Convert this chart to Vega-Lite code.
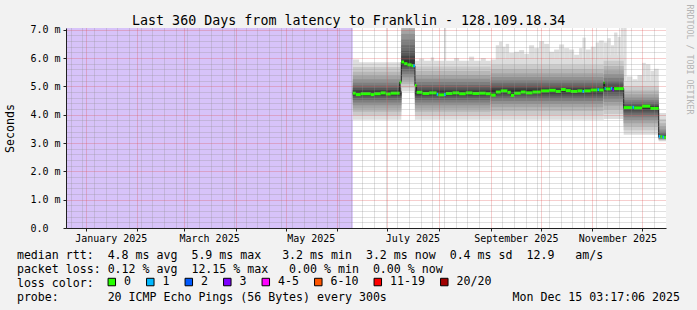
{
"$schema": "https://vega.github.io/schema/vega-lite/v6.json",
"width": 600,
"height": 200,
"autosize": "none",
"padding": {"left": 66, "top": 28, "right": 31, "bottom": 82},
"background": "#f2f2f2",
"config": {"view": {"fill": "#ffffff", "stroke": null}, "font": "DejaVu Sans Mono"},
"title": {"text": "Last 360 Days from latency to Franklin - 128.109.18.34", "font": "DejaVu Sans Mono", "fontSize": 13.33, "fontWeight": "normal", "color": "#000000", "anchor": "start", "frame": "group", "dx": 66, "offset": -34, "baseline": "alphabetic"},
"datasets": {
"unknown": [{"t0": "2024-12-20T03:17:06Z", "t1": "2025-06-10T06:00:00Z"}],
"smoke": [
{"t0":"2025-06-10T06:00:00Z","t1":"2025-07-09T08:00:00Z","band":1,"lo":3.82,"hi":5.85},
{"t0":"2025-06-10T06:00:00Z","t1":"2025-07-09T08:00:00Z","band":2,"lo":3.97,"hi":5.68},
{"t0":"2025-06-10T06:00:00Z","t1":"2025-07-09T08:00:00Z","band":3,"lo":4.10,"hi":5.52},
{"t0":"2025-06-10T06:00:00Z","t1":"2025-07-09T08:00:00Z","band":4,"lo":4.22,"hi":5.38},
{"t0":"2025-06-10T06:00:00Z","t1":"2025-07-09T08:00:00Z","band":5,"lo":4.33,"hi":5.25},
{"t0":"2025-06-10T06:00:00Z","t1":"2025-07-09T08:00:00Z","band":6,"lo":4.43,"hi":5.13},
{"t0":"2025-06-10T06:00:00Z","t1":"2025-07-09T08:00:00Z","band":7,"lo":4.52,"hi":5.03},
{"t0":"2025-06-10T06:00:00Z","t1":"2025-07-09T08:00:00Z","band":8,"lo":4.60,"hi":4.94},
{"t0":"2025-06-10T06:00:00Z","t1":"2025-07-09T08:00:00Z","band":9,"lo":4.66,"hi":4.87},
{"t0":"2025-06-10T06:00:00Z","t1":"2025-07-09T08:00:00Z","band":10,"lo":4.71,"hi":4.81},
{"t0":"2025-07-09T08:00:00Z","t1":"2025-07-17T12:00:00Z","band":1,"lo":4.82,"hi":7.06},
{"t0":"2025-07-09T08:00:00Z","t1":"2025-07-17T12:00:00Z","band":2,"lo":4.95,"hi":7.06},
{"t0":"2025-07-09T08:00:00Z","t1":"2025-07-17T12:00:00Z","band":3,"lo":5.08,"hi":7.06},
{"t0":"2025-07-09T08:00:00Z","t1":"2025-07-17T12:00:00Z","band":4,"lo":5.20,"hi":7.00},
{"t0":"2025-07-09T08:00:00Z","t1":"2025-07-17T12:00:00Z","band":5,"lo":5.32,"hi":6.85},
{"t0":"2025-07-09T08:00:00Z","t1":"2025-07-17T12:00:00Z","band":6,"lo":5.43,"hi":6.65},
{"t0":"2025-07-09T08:00:00Z","t1":"2025-07-17T12:00:00Z","band":7,"lo":5.53,"hi":6.45},
{"t0":"2025-07-09T08:00:00Z","t1":"2025-07-17T12:00:00Z","band":8,"lo":5.62,"hi":6.25},
{"t0":"2025-07-09T08:00:00Z","t1":"2025-07-17T12:00:00Z","band":9,"lo":5.70,"hi":6.08},
{"t0":"2025-07-09T08:00:00Z","t1":"2025-07-17T12:00:00Z","band":10,"lo":5.76,"hi":5.93},
{"t0":"2025-07-17T12:00:00Z","t1":"2025-09-01T00:00:00Z","band":1,"lo":3.82,"hi":5.90},
{"t0":"2025-07-17T12:00:00Z","t1":"2025-09-01T00:00:00Z","band":2,"lo":3.97,"hi":5.70},
{"t0":"2025-07-17T12:00:00Z","t1":"2025-09-01T00:00:00Z","band":3,"lo":4.10,"hi":5.54},
{"t0":"2025-07-17T12:00:00Z","t1":"2025-09-01T00:00:00Z","band":4,"lo":4.22,"hi":5.40},
{"t0":"2025-07-17T12:00:00Z","t1":"2025-09-01T00:00:00Z","band":5,"lo":4.33,"hi":5.27},
{"t0":"2025-07-17T12:00:00Z","t1":"2025-09-01T00:00:00Z","band":6,"lo":4.43,"hi":5.15},
{"t0":"2025-07-17T12:00:00Z","t1":"2025-09-01T00:00:00Z","band":7,"lo":4.52,"hi":5.05},
{"t0":"2025-07-17T12:00:00Z","t1":"2025-09-01T00:00:00Z","band":8,"lo":4.60,"hi":4.96},
{"t0":"2025-07-17T12:00:00Z","t1":"2025-09-01T00:00:00Z","band":9,"lo":4.67,"hi":4.88},
{"t0":"2025-07-17T12:00:00Z","t1":"2025-09-01T00:00:00Z","band":10,"lo":4.72,"hi":4.82},
{"t0":"2025-09-01T00:00:00Z","t1":"2025-11-07T18:00:00Z","band":1,"lo":3.82,"hi":5.95},
{"t0":"2025-09-01T00:00:00Z","t1":"2025-11-07T18:00:00Z","band":2,"lo":3.99,"hi":5.76},
{"t0":"2025-09-01T00:00:00Z","t1":"2025-11-07T18:00:00Z","band":3,"lo":4.13,"hi":5.60},
{"t0":"2025-09-01T00:00:00Z","t1":"2025-11-07T18:00:00Z","band":4,"lo":4.26,"hi":5.46},
{"t0":"2025-09-01T00:00:00Z","t1":"2025-11-07T18:00:00Z","band":5,"lo":4.38,"hi":5.33},
{"t0":"2025-09-01T00:00:00Z","t1":"2025-11-07T18:00:00Z","band":6,"lo":4.48,"hi":5.21},
{"t0":"2025-09-01T00:00:00Z","t1":"2025-11-07T18:00:00Z","band":7,"lo":4.57,"hi":5.11},
{"t0":"2025-09-01T00:00:00Z","t1":"2025-11-07T18:00:00Z","band":8,"lo":4.65,"hi":5.02},
{"t0":"2025-09-01T00:00:00Z","t1":"2025-11-07T18:00:00Z","band":9,"lo":4.72,"hi":4.94},
{"t0":"2025-09-01T00:00:00Z","t1":"2025-11-07T18:00:00Z","band":10,"lo":4.78,"hi":4.88},
{"t0":"2025-11-07T18:00:00Z","t1":"2025-11-19T18:00:00Z","band":1,"lo":3.85,"hi":6.10},
{"t0":"2025-11-07T18:00:00Z","t1":"2025-11-19T18:00:00Z","band":2,"lo":4.02,"hi":5.90},
{"t0":"2025-11-07T18:00:00Z","t1":"2025-11-19T18:00:00Z","band":3,"lo":4.18,"hi":5.72},
{"t0":"2025-11-07T18:00:00Z","t1":"2025-11-19T18:00:00Z","band":4,"lo":4.32,"hi":5.57},
{"t0":"2025-11-07T18:00:00Z","t1":"2025-11-19T18:00:00Z","band":5,"lo":4.45,"hi":5.43},
{"t0":"2025-11-07T18:00:00Z","t1":"2025-11-19T18:00:00Z","band":6,"lo":4.56,"hi":5.30},
{"t0":"2025-11-07T18:00:00Z","t1":"2025-11-19T18:00:00Z","band":7,"lo":4.66,"hi":5.19},
{"t0":"2025-11-07T18:00:00Z","t1":"2025-11-19T18:00:00Z","band":8,"lo":4.75,"hi":5.10},
{"t0":"2025-11-07T18:00:00Z","t1":"2025-11-19T18:00:00Z","band":9,"lo":4.82,"hi":5.02},
{"t0":"2025-11-07T18:00:00Z","t1":"2025-11-19T18:00:00Z","band":10,"lo":4.88,"hi":4.97},
{"t0":"2025-11-19T18:00:00Z","t1":"2025-12-10T18:00:00Z","band":1,"lo":3.29,"hi":5.20},
{"t0":"2025-11-19T18:00:00Z","t1":"2025-12-10T18:00:00Z","band":2,"lo":3.45,"hi":5.00},
{"t0":"2025-11-19T18:00:00Z","t1":"2025-12-10T18:00:00Z","band":3,"lo":3.58,"hi":4.85},
{"t0":"2025-11-19T18:00:00Z","t1":"2025-12-10T18:00:00Z","band":4,"lo":3.70,"hi":4.72},
{"t0":"2025-11-19T18:00:00Z","t1":"2025-12-10T18:00:00Z","band":5,"lo":3.81,"hi":4.61},
{"t0":"2025-11-19T18:00:00Z","t1":"2025-12-10T18:00:00Z","band":6,"lo":3.91,"hi":4.51},
{"t0":"2025-11-19T18:00:00Z","t1":"2025-12-10T18:00:00Z","band":7,"lo":4.00,"hi":4.43},
{"t0":"2025-11-19T18:00:00Z","t1":"2025-12-10T18:00:00Z","band":8,"lo":4.08,"hi":4.36},
{"t0":"2025-11-19T18:00:00Z","t1":"2025-12-10T18:00:00Z","band":9,"lo":4.15,"hi":4.31},
{"t0":"2025-11-19T18:00:00Z","t1":"2025-12-10T18:00:00Z","band":10,"lo":4.20,"hi":4.28},
{"t0":"2025-12-10T18:00:00Z","t1":"2025-12-15T03:17:06Z","band":1,"lo":3.06,"hi":4.06},
{"t0":"2025-12-10T18:00:00Z","t1":"2025-12-15T03:17:06Z","band":2,"lo":3.09,"hi":3.85},
{"t0":"2025-12-10T18:00:00Z","t1":"2025-12-15T03:17:06Z","band":3,"lo":3.11,"hi":3.70},
{"t0":"2025-12-10T18:00:00Z","t1":"2025-12-15T03:17:06Z","band":4,"lo":3.13,"hi":3.58},
{"t0":"2025-12-10T18:00:00Z","t1":"2025-12-15T03:17:06Z","band":5,"lo":3.15,"hi":3.48},
{"t0":"2025-12-10T18:00:00Z","t1":"2025-12-15T03:17:06Z","band":6,"lo":3.16,"hi":3.40},
{"t0":"2025-12-10T18:00:00Z","t1":"2025-12-15T03:17:06Z","band":7,"lo":3.17,"hi":3.34},
{"t0":"2025-12-10T18:00:00Z","t1":"2025-12-15T03:17:06Z","band":8,"lo":3.18,"hi":3.29},
{"t0":"2025-12-10T18:00:00Z","t1":"2025-12-15T03:17:06Z","band":9,"lo":3.19,"hi":3.26},
{"t0":"2025-12-10T18:00:00Z","t1":"2025-12-15T03:17:06Z","band":10,"lo":3.20,"hi":3.23}
],
"peaks": [
{"t0":"2025-06-10T06:00:00Z","t1":"2025-06-14T00:00:00Z","lo":4.75,"hi":5.95},
{"t0":"2025-07-20T00:00:00Z","t1":"2025-07-23T00:00:00Z","lo":4.76,"hi":5.98},
{"t0":"2025-07-27T00:00:00Z","t1":"2025-07-29T00:00:00Z","lo":4.76,"hi":6.02},
{"t0":"2025-08-04T00:00:00Z","t1":"2025-08-05T06:00:00Z","lo":4.76,"hi":7.06},
{"t0":"2025-08-10T00:00:00Z","t1":"2025-08-13T00:00:00Z","lo":4.76,"hi":6.00},
{"t0":"2025-08-19T00:00:00Z","t1":"2025-08-22T00:00:00Z","lo":4.76,"hi":6.05},
{"t0":"2025-08-26T00:00:00Z","t1":"2025-08-29T00:00:00Z","lo":4.76,"hi":6.00},
{"t0":"2025-09-04T00:00:00Z","t1":"2025-09-06T00:00:00Z","lo":4.82,"hi":6.45},
{"t0":"2025-09-06T00:00:00Z","t1":"2025-09-08T00:00:00Z","lo":4.82,"hi":6.58},
{"t0":"2025-09-08T00:00:00Z","t1":"2025-09-10T00:00:00Z","lo":4.82,"hi":6.40},
{"t0":"2025-09-10T00:00:00Z","t1":"2025-09-12T00:00:00Z","lo":4.82,"hi":6.50},
{"t0":"2025-09-12T00:00:00Z","t1":"2025-09-15T00:00:00Z","lo":4.82,"hi":6.18},
{"t0":"2025-09-15T00:00:00Z","t1":"2025-09-18T00:00:00Z","lo":4.82,"hi":6.22},
{"t0":"2025-09-18T00:00:00Z","t1":"2025-09-21T00:00:00Z","lo":4.82,"hi":6.28},
{"t0":"2025-09-21T00:00:00Z","t1":"2025-09-24T00:00:00Z","lo":4.82,"hi":6.15},
{"t0":"2025-09-24T00:00:00Z","t1":"2025-09-27T00:00:00Z","lo":4.82,"hi":6.45},
{"t0":"2025-09-27T00:00:00Z","t1":"2025-09-30T00:00:00Z","lo":4.82,"hi":6.35},
{"t0":"2025-09-30T00:00:00Z","t1":"2025-10-03T00:00:00Z","lo":4.82,"hi":6.60},
{"t0":"2025-10-03T00:00:00Z","t1":"2025-10-06T00:00:00Z","lo":4.82,"hi":6.50},
{"t0":"2025-10-06T00:00:00Z","t1":"2025-10-09T00:00:00Z","lo":4.82,"hi":6.22},
{"t0":"2025-10-09T00:00:00Z","t1":"2025-10-12T00:00:00Z","lo":4.82,"hi":6.30},
{"t0":"2025-10-12T00:00:00Z","t1":"2025-10-15T00:00:00Z","lo":4.82,"hi":6.48},
{"t0":"2025-10-15T00:00:00Z","t1":"2025-10-18T00:00:00Z","lo":4.82,"hi":6.35},
{"t0":"2025-10-18T00:00:00Z","t1":"2025-10-21T00:00:00Z","lo":4.82,"hi":6.30},
{"t0":"2025-10-21T00:00:00Z","t1":"2025-10-24T00:00:00Z","lo":4.82,"hi":6.12},
{"t0":"2025-10-24T00:00:00Z","t1":"2025-10-26T00:00:00Z","lo":4.82,"hi":6.35},
{"t0":"2025-10-26T00:00:00Z","t1":"2025-10-28T00:00:00Z","lo":4.82,"hi":6.72},
{"t0":"2025-10-28T00:00:00Z","t1":"2025-10-31T00:00:00Z","lo":4.82,"hi":6.30},
{"t0":"2025-10-31T00:00:00Z","t1":"2025-11-03T00:00:00Z","lo":4.82,"hi":6.40},
{"t0":"2025-11-03T00:00:00Z","t1":"2025-11-05T00:00:00Z","lo":4.82,"hi":6.55},
{"t0":"2025-11-05T00:00:00Z","t1":"2025-11-07T18:00:00Z","lo":4.82,"hi":6.62},
{"t0":"2025-11-07T18:00:00Z","t1":"2025-11-10T00:00:00Z","lo":4.92,"hi":6.55},
{"t0":"2025-11-10T00:00:00Z","t1":"2025-11-12T00:00:00Z","lo":4.92,"hi":6.70},
{"t0":"2025-11-12T00:00:00Z","t1":"2025-11-14T00:00:00Z","lo":4.92,"hi":6.45},
{"t0":"2025-11-14T00:00:00Z","t1":"2025-11-16T00:00:00Z","lo":4.92,"hi":6.90},
{"t0":"2025-11-16T00:00:00Z","t1":"2025-11-18T00:00:00Z","lo":4.92,"hi":6.75},
{"t0":"2025-11-18T00:00:00Z","t1":"2025-11-19T18:00:00Z","lo":4.92,"hi":7.06},
{"t0":"2025-11-19T18:00:00Z","t1":"2025-11-21T12:00:00Z","lo":4.25,"hi":7.06},
{"t0":"2025-11-21T12:00:00Z","t1":"2025-11-25T00:00:00Z","lo":4.25,"hi":5.35},
{"t0":"2025-11-25T00:00:00Z","t1":"2025-11-28T00:00:00Z","lo":4.25,"hi":5.25},
{"t0":"2025-11-28T00:00:00Z","t1":"2025-11-30T18:00:00Z","lo":4.25,"hi":5.40},
{"t0":"2025-11-30T18:00:00Z","t1":"2025-12-03T00:00:00Z","lo":4.25,"hi":5.83},
{"t0":"2025-12-03T00:00:00Z","t1":"2025-12-05T18:00:00Z","lo":4.25,"hi":5.78},
{"t0":"2025-12-05T18:00:00Z","t1":"2025-12-08T00:00:00Z","lo":4.25,"hi":5.55},
{"t0":"2025-12-08T00:00:00Z","t1":"2025-12-10T18:00:00Z","lo":4.25,"hi":5.62}
],
"med": [
{"t0":"2025-06-10T06:00:00Z","t1":"2025-06-12T00:00:00Z","med":4.76,"loss":"0"},
{"t0":"2025-06-12T00:00:00Z","t1":"2025-06-15T00:00:00Z","med":4.71,"loss":"0"},
{"t0":"2025-06-15T00:00:00Z","t1":"2025-06-21T00:00:00Z","med":4.74,"loss":"0"},
{"t0":"2025-06-21T00:00:00Z","t1":"2025-06-23T00:00:00Z","med":4.71,"loss":"0"},
{"t0":"2025-06-23T00:00:00Z","t1":"2025-06-27T00:00:00Z","med":4.74,"loss":"0"},
{"t0":"2025-06-27T00:00:00Z","t1":"2025-06-30T00:00:00Z","med":4.77,"loss":"0"},
{"t0":"2025-06-30T00:00:00Z","t1":"2025-07-03T00:00:00Z","med":4.73,"loss":"0"},
{"t0":"2025-07-03T00:00:00Z","t1":"2025-07-08T08:00:00Z","med":4.76,"loss":"0"},
{"t0":"2025-07-08T08:00:00Z","t1":"2025-07-09T08:00:00Z","med":5.15,"loss":"0"},
{"t0":"2025-07-09T08:00:00Z","t1":"2025-07-11T00:00:00Z","med":5.86,"loss":"0"},
{"t0":"2025-07-11T00:00:00Z","t1":"2025-07-13T00:00:00Z","med":5.80,"loss":"0"},
{"t0":"2025-07-13T00:00:00Z","t1":"2025-07-15T12:00:00Z","med":5.76,"loss":"0"},
{"t0":"2025-07-15T12:00:00Z","t1":"2025-07-16T12:00:00Z","med":5.73,"loss":"0"},
{"t0":"2025-07-16T12:00:00Z","t1":"2025-07-17T12:00:00Z","med":5.73,"loss":"1"},
{"t0":"2025-07-17T12:00:00Z","t1":"2025-07-18T12:00:00Z","med":5.03,"loss":"0"},
{"t0":"2025-07-18T12:00:00Z","t1":"2025-07-22T00:00:00Z","med":4.79,"loss":"0"},
{"t0":"2025-07-22T00:00:00Z","t1":"2025-07-26T00:00:00Z","med":4.75,"loss":"0"},
{"t0":"2025-07-26T00:00:00Z","t1":"2025-07-30T12:00:00Z","med":4.77,"loss":"0"},
{"t0":"2025-07-30T12:00:00Z","t1":"2025-07-31T12:00:00Z","med":4.72,"loss":"1"},
{"t0":"2025-07-31T12:00:00Z","t1":"2025-08-04T00:00:00Z","med":4.70,"loss":"0"},
{"t0":"2025-08-04T00:00:00Z","t1":"2025-08-05T00:00:00Z","med":4.71,"loss":"1"},
{"t0":"2025-08-05T00:00:00Z","t1":"2025-08-09T00:00:00Z","med":4.75,"loss":"0"},
{"t0":"2025-08-09T00:00:00Z","t1":"2025-08-13T00:00:00Z","med":4.77,"loss":"0"},
{"t0":"2025-08-13T00:00:00Z","t1":"2025-08-17T00:00:00Z","med":4.74,"loss":"0"},
{"t0":"2025-08-17T00:00:00Z","t1":"2025-08-21T00:00:00Z","med":4.77,"loss":"0"},
{"t0":"2025-08-21T00:00:00Z","t1":"2025-08-25T00:00:00Z","med":4.75,"loss":"0"},
{"t0":"2025-08-25T00:00:00Z","t1":"2025-08-29T00:00:00Z","med":4.76,"loss":"0"},
{"t0":"2025-08-29T00:00:00Z","t1":"2025-09-01T00:00:00Z","med":4.74,"loss":"0"},
{"t0":"2025-09-01T00:00:00Z","t1":"2025-09-04T00:00:00Z","med":4.69,"loss":"0"},
{"t0":"2025-09-04T00:00:00Z","t1":"2025-09-07T00:00:00Z","med":4.80,"loss":"0"},
{"t0":"2025-09-07T00:00:00Z","t1":"2025-09-11T00:00:00Z","med":4.84,"loss":"0"},
{"t0":"2025-09-11T00:00:00Z","t1":"2025-09-13T00:00:00Z","med":4.79,"loss":"0"},
{"t0":"2025-09-13T00:00:00Z","t1":"2025-09-15T00:00:00Z","med":4.68,"loss":"0"},
{"t0":"2025-09-15T00:00:00Z","t1":"2025-09-19T00:00:00Z","med":4.76,"loss":"0"},
{"t0":"2025-09-19T00:00:00Z","t1":"2025-09-22T00:00:00Z","med":4.80,"loss":"0"},
{"t0":"2025-09-22T00:00:00Z","t1":"2025-09-26T00:00:00Z","med":4.77,"loss":"0"},
{"t0":"2025-09-26T00:00:00Z","t1":"2025-10-01T00:00:00Z","med":4.80,"loss":"0"},
{"t0":"2025-10-01T00:00:00Z","t1":"2025-10-06T00:00:00Z","med":4.84,"loss":"0"},
{"t0":"2025-10-06T00:00:00Z","t1":"2025-10-10T00:00:00Z","med":4.86,"loss":"0"},
{"t0":"2025-10-10T00:00:00Z","t1":"2025-10-13T00:00:00Z","med":4.82,"loss":"0"},
{"t0":"2025-10-13T00:00:00Z","t1":"2025-10-16T00:00:00Z","med":4.89,"loss":"0"},
{"t0":"2025-10-16T00:00:00Z","t1":"2025-10-19T00:00:00Z","med":4.85,"loss":"0"},
{"t0":"2025-10-19T00:00:00Z","t1":"2025-10-23T00:00:00Z","med":4.82,"loss":"0"},
{"t0":"2025-10-23T00:00:00Z","t1":"2025-10-26T00:00:00Z","med":4.84,"loss":"0"},
{"t0":"2025-10-26T00:00:00Z","t1":"2025-10-27T00:00:00Z","med":4.82,"loss":"1"},
{"t0":"2025-10-27T00:00:00Z","t1":"2025-10-31T00:00:00Z","med":4.84,"loss":"0"},
{"t0":"2025-10-31T00:00:00Z","t1":"2025-11-04T00:00:00Z","med":4.87,"loss":"0"},
{"t0":"2025-11-04T00:00:00Z","t1":"2025-11-05T00:00:00Z","med":4.88,"loss":"1"},
{"t0":"2025-11-05T00:00:00Z","t1":"2025-11-07T18:00:00Z","med":4.87,"loss":"0"},
{"t0":"2025-11-07T18:00:00Z","t1":"2025-11-08T06:00:00Z","med":5.14,"loss":"0"},
{"t0":"2025-11-08T06:00:00Z","t1":"2025-11-09T00:00:00Z","med":4.92,"loss":"1"},
{"t0":"2025-11-09T00:00:00Z","t1":"2025-11-12T00:00:00Z","med":4.91,"loss":"0"},
{"t0":"2025-11-12T00:00:00Z","t1":"2025-11-13T00:00:00Z","med":4.93,"loss":"1"},
{"t0":"2025-11-13T00:00:00Z","t1":"2025-11-14T00:00:00Z","med":4.88,"loss":"3"},
{"t0":"2025-11-14T00:00:00Z","t1":"2025-11-19T18:00:00Z","med":4.92,"loss":"0"},
{"t0":"2025-11-19T18:00:00Z","t1":"2025-11-25T00:00:00Z","med":4.25,"loss":"0"},
{"t0":"2025-11-25T00:00:00Z","t1":"2025-11-26T00:00:00Z","med":4.26,"loss":"1"},
{"t0":"2025-11-26T00:00:00Z","t1":"2025-11-30T18:00:00Z","med":4.24,"loss":"0"},
{"t0":"2025-11-30T18:00:00Z","t1":"2025-12-05T18:00:00Z","med":4.30,"loss":"0"},
{"t0":"2025-12-05T18:00:00Z","t1":"2025-12-10T18:00:00Z","med":4.22,"loss":"0"},
{"t0":"2025-12-10T18:00:00Z","t1":"2025-12-11T18:00:00Z","med":3.23,"loss":"1"},
{"t0":"2025-12-11T18:00:00Z","t1":"2025-12-13T00:00:00Z","med":3.22,"loss":"0"},
{"t0":"2025-12-13T00:00:00Z","t1":"2025-12-14T00:00:00Z","med":3.21,"loss":"1"},
{"t0":"2025-12-14T00:00:00Z","t1":"2025-12-15T03:17:06Z","med":3.20,"loss":"0"}
]
},
"encoding": {
"x": {"field": "t0", "type": "temporal",
"scale": {"type": "utc", "domain": [{"year": 2024, "month": 12, "date": 20, "hours": 3, "minutes": 17, "seconds": 6, "utc": true}, {"year": 2025, "month": 12, "date": 15, "hours": 3, "minutes": 17, "seconds": 6, "utc": true}]},
"axis": {
"title": ["median rtt:\u00a0\u00a04.8 ms avg\u00a0\u00a05.9 ms max\u00a0\u00a0\u00a03.2 ms min\u00a0\u00a03.2 ms now\u00a0\u00a00.4 ms sd\u00a0\u00a012.9\u00a0\u00a0\u00a0am/s", "packet loss: 0.12 % avg\u00a0\u00a012.15 % max\u00a0\u00a0\u00a00.00 % min\u00a0\u00a00.00 % now", "loss color:", "probe:\u00a0\u00a0\u00a0\u00a0\u00a0\u00a0\u00a020 ICMP Echo Pings (56 Bytes) every 300s\u00a0\u00a0\u00a0\u00a0\u00a0\u00a0\u00a0\u00a0\u00a0\u00a0\u00a0\u00a0\u00a0\u00a0\u00a0\u00a0\u00a0\u00a0Mon Dec 15 03:17:06 2025"],
"titleFont": "DejaVu Sans Mono", "titleFontSize": 11.6, "titleFontWeight": "normal", "titleColor": "#000000",
"titleX": -49.6, "titleY": 30, "titleAlign": "left", "titleBaseline": "alphabetic", "titleAngle": 0, "titleLineHeight": 14,
"values": [
{"year":2024,"month":12,"date":23,"utc":true},{"year":2024,"month":12,"date":30,"utc":true},
{"year":2025,"month":1,"date":1,"utc":true},{"year":2025,"month":1,"date":6,"utc":true},{"year":2025,"month":1,"date":13,"utc":true},{"year":2025,"month":1,"date":16,"utc":true},{"year":2025,"month":1,"date":20,"utc":true},{"year":2025,"month":1,"date":27,"utc":true},
{"year":2025,"month":2,"date":1,"utc":true},{"year":2025,"month":2,"date":3,"utc":true},{"year":2025,"month":2,"date":10,"utc":true},{"year":2025,"month":2,"date":17,"utc":true},{"year":2025,"month":2,"date":24,"utc":true},
{"year":2025,"month":3,"date":1,"utc":true},{"year":2025,"month":3,"date":3,"utc":true},{"year":2025,"month":3,"date":10,"utc":true},{"year":2025,"month":3,"date":16,"utc":true},{"year":2025,"month":3,"date":17,"utc":true},{"year":2025,"month":3,"date":24,"utc":true},{"year":2025,"month":3,"date":31,"utc":true},
{"year":2025,"month":4,"date":1,"utc":true},{"year":2025,"month":4,"date":7,"utc":true},{"year":2025,"month":4,"date":14,"utc":true},{"year":2025,"month":4,"date":21,"utc":true},{"year":2025,"month":4,"date":28,"utc":true},
{"year":2025,"month":5,"date":1,"utc":true},{"year":2025,"month":5,"date":5,"utc":true},{"year":2025,"month":5,"date":12,"utc":true},{"year":2025,"month":5,"date":16,"utc":true},{"year":2025,"month":5,"date":19,"utc":true},{"year":2025,"month":5,"date":26,"utc":true},
{"year":2025,"month":6,"date":1,"utc":true},{"year":2025,"month":6,"date":2,"utc":true},{"year":2025,"month":6,"date":9,"utc":true},{"year":2025,"month":6,"date":16,"utc":true},{"year":2025,"month":6,"date":23,"utc":true},{"year":2025,"month":6,"date":30,"utc":true},
{"year":2025,"month":7,"date":1,"utc":true},{"year":2025,"month":7,"date":7,"utc":true},{"year":2025,"month":7,"date":14,"utc":true},{"year":2025,"month":7,"date":16,"utc":true},{"year":2025,"month":7,"date":21,"utc":true},{"year":2025,"month":7,"date":28,"utc":true},
{"year":2025,"month":8,"date":1,"utc":true},{"year":2025,"month":8,"date":4,"utc":true},{"year":2025,"month":8,"date":11,"utc":true},{"year":2025,"month":8,"date":18,"utc":true},{"year":2025,"month":8,"date":25,"utc":true},
{"year":2025,"month":9,"date":1,"utc":true},{"year":2025,"month":9,"date":8,"utc":true},{"year":2025,"month":9,"date":15,"utc":true},{"year":2025,"month":9,"date":16,"utc":true},{"year":2025,"month":9,"date":22,"utc":true},{"year":2025,"month":9,"date":29,"utc":true},
{"year":2025,"month":10,"date":1,"utc":true},{"year":2025,"month":10,"date":6,"utc":true},{"year":2025,"month":10,"date":13,"utc":true},{"year":2025,"month":10,"date":20,"utc":true},{"year":2025,"month":10,"date":27,"utc":true},
{"year":2025,"month":11,"date":1,"utc":true},{"year":2025,"month":11,"date":3,"utc":true},{"year":2025,"month":11,"date":10,"utc":true},{"year":2025,"month":11,"date":16,"utc":true},{"year":2025,"month":11,"date":17,"utc":true},{"year":2025,"month":11,"date":24,"utc":true},
{"year":2025,"month":12,"date":1,"utc":true},{"year":2025,"month":12,"date":8,"utc":true}
],
"labelExpr": "(utcdate(datum.value) == 16 && utcmonth(datum.value) % 2 == 0) ? utcFormat(datum.value, '%B %Y') : ''",
"labelFont": "DejaVu Sans Mono", "labelFontSize": 10, "labelColor": "#000000", "labelPadding": 2, "labelOverlap": false, "labelFlush": false, "labelBaseline": "top",
"grid": true,
"gridColor": {"condition": {"test": "utcdate(datum.value) == 1", "value": "#de4f4f"}, "value": "#8f8f8f"},
"gridOpacity": {"condition": {"test": "utcdate(datum.value) == 16 && utcmonth(datum.value) % 2 == 0", "value": 0}, "value": 0.55},
"gridDash": [1, 1],
"ticks": true, "tickSize": 3, "tickColor": "#202020",
"tickOpacity": {"condition": {"test": "utcdate(datum.value) == 1", "value": 1}, "value": 0},
"domain": true, "domainColor": "#202020", "zindex": 1
}
}
},
"layer": [
{"data": {"name": "unknown"}, "mark": {"type": "rect", "color": "#d7c3f9"},
 "encoding": {"x2": {"field": "t1"}, "y": {"datum": 7.06, "type": "quantitative", "scale": {"domain": [0, 7.06], "nice": false, "zero": false}, "axis": null}, "y2": {"datum": 0}}},
{"data": {"name": "peaks"}, "mark": {"type": "rect", "color": "#dddddd"},
 "encoding": {"x2": {"field": "t1"},
  "y": {"field": "hi", "type": "quantitative", "scale": {"domain": [0, 7.06], "nice": false, "zero": false},
   "axis": {"orient": "right", "title": "RRDTOOL / TOBI OETIKER", "titleFont": "DejaVu Sans Mono", "titleFontSize": 8.3, "titleFontWeight": "normal", "titleColor": "#b4b4b4", "titleAngle": 90, "titleX": 22, "titleY": 31, "titleAlign": "center", "titleBaseline": "middle", "labels": false, "ticks": false, "domain": false, "grid": false}},
  "y2": {"field": "lo"}}},
{"data": {"name": "smoke"}, "mark": {"type": "rect"},
 "encoding": {"x2": {"field": "t1"},
  "y": {"field": "lo", "type": "quantitative", "scale": {"domain": [0, 7.06], "nice": false, "zero": false},
   "axis": {"title": "Seconds", "titleFont": "DejaVu Sans Mono", "titleFontSize": 11.6, "titleFontWeight": "normal", "titleColor": "#000000", "titleAngle": 270, "titleX": -56, "titleY": 100, "titleAlign": "center", "titleBaseline": "middle",
    "values": [0,0.2,0.4,0.6,0.8,1,1.2,1.4,1.6,1.8,2,2.2,2.4,2.6,2.8,3,3.2,3.4,3.6,3.8,4,4.2,4.4,4.6,4.8,5,5.2,5.4,5.6,5.8,6,6.2,6.4,6.6,6.8,7],
    "labelExpr": "datum.value == 0 ? '0.0' : (abs(datum.value - round(datum.value)) < 0.01 ? format(datum.value, '.1f') + ' m' : '')",
    "labelFont": "DejaVu Sans Mono", "labelFontSize": 10, "labelColor": "#000000", "labelAlign": "left", "labelBaseline": "middle", "labelPadding": 33, "labelOverlap": false, "labelFlush": false,
    "ticks": true, "tickSize": 3, "tickColor": "#202020",
    "tickOpacity": {"condition": {"test": "abs(datum.value - round(datum.value)) < 0.01", "value": 1}, "value": 0},
    "grid": true,
    "gridColor": {"condition": {"test": "abs(datum.value - round(datum.value)) < 0.01", "value": "#de4f4f"}, "value": "#8f8f8f"},
    "gridOpacity": 0.55, "gridDash": [1, 1],
    "domain": true, "domainColor": "#202020", "zindex": 1}},
  "y2": {"field": "hi"},
  "fill": {"field": "band", "type": "ordinal", "scale": {"domain": [1,2,3,4,5,6,7,8,9,10], "range": ["#dddddd","#cacaca","#b7b7b7","#a4a4a4","#919191","#7e7e7e","#6b6b6b","#585858","#454545","#323232"]}, "legend": null}}},
{"data": {"name": "med"}, "mark": {"type": "line", "interpolate": "step-after", "color": "#202020", "strokeWidth": 1},
 "encoding": {"y": {"field": "med", "type": "quantitative", "scale": {"domain": [0, 7.06], "nice": false, "zero": false}, "axis": null}}},
{"data": {"name": "med"}, "mark": {"type": "rule", "strokeWidth": 3},
 "encoding": {"x2": {"field": "t1"},
  "y": {"field": "med", "type": "quantitative", "scale": {"domain": [0, 7.06], "nice": false, "zero": false}, "axis": null},
  "stroke": {"field": "loss", "type": "nominal", "scale": {"domain": ["20/20","11-19","6-10","4-5","3","2","1","0"], "range": ["#a10000","#ff0000","#ff5500","#ff00ff","#7e00ff","#0059ff","#00b8ff","#26ff00"]}, "legend": null}}},
{"data": {"name": "med"}, "mark": {"type": "point", "shape": "square", "filled": true, "opacity": 0},
 "encoding": {
  "y": {"field": "med", "type": "quantitative", "scale": {"domain": [0, 7.06], "nice": false, "zero": false}, "axis": null},
  "color": {"field": "loss", "type": "nominal", "scale": {"domain": ["0","1","2","3","4-5","6-10","11-19","20/20"], "range": ["#26ff00","#00b8ff","#0059ff","#7e00ff","#ff00ff","#ff5500","#ff0000","#a10000"]},
   "legend": {"title": null, "orient": "none", "legendX": 40, "legendY": 248, "direction": "horizontal", "symbolType": "square", "symbolSize": 56, "symbolStrokeColor": "#000000", "symbolStrokeWidth": 1, "symbolOpacity": 1, "labelFont": "DejaVu Sans Mono", "labelFontSize": 11.6, "labelColor": "#000000", "labelOffset": 6.5, "columnPadding": 12.5}}}},
{"data": {"values": [{}]}, "mark": {"type": "rule", "color": "#202020", "strokeWidth": 1},
 "encoding": {"x": {"datum": {"year": 2024, "month": 12, "date": 20, "hours": 3, "minutes": 17, "seconds": 6, "utc": true}, "type": "temporal", "scale": {"type": "utc"}},
  "y": {"datum": 7.06, "type": "quantitative", "scale": {"domain": [0, 7.06], "nice": false, "zero": false}, "axis": null}, "y2": {"datum": 7.2}}},
{"data": {"values": [{}]}, "mark": {"type": "rule", "color": "#202020", "strokeWidth": 1},
 "encoding": {"x": {"datum": {"year": 2025, "month": 12, "date": 15, "hours": 3, "minutes": 17, "seconds": 6, "utc": true}, "type": "temporal", "scale": {"type": "utc"}},
  "x2": {"datum": {"year": 2025, "month": 12, "date": 17, "hours": 12, "utc": true}},
  "y": {"datum": 0, "type": "quantitative", "scale": {"domain": [0, 7.06], "nice": false, "zero": false}, "axis": null}}},
{"data": {"values": [{}]}, "mark": {"type": "point", "shape": "triangle-up", "filled": true, "color": "#800000", "size": 28, "opacity": 1},
 "encoding": {"x": {"datum": {"year": 2024, "month": 12, "date": 20, "hours": 3, "minutes": 17, "seconds": 6, "utc": true}, "type": "temporal", "scale": {"type": "utc"}},
  "y": {"datum": 7.22, "type": "quantitative", "scale": {"domain": [0, 7.06], "nice": false, "zero": false}, "axis": null}}},
{"data": {"values": [{}]}, "mark": {"type": "point", "shape": "triangle-right", "filled": true, "color": "#800000", "size": 28, "opacity": 1},
 "encoding": {"x": {"datum": {"year": 2025, "month": 12, "date": 17, "hours": 18, "utc": true}, "type": "temporal", "scale": {"type": "utc"}},
  "y": {"datum": 0, "type": "quantitative", "scale": {"domain": [0, 7.06], "nice": false, "zero": false}, "axis": null}}}
],
"resolve": {"axis": {"y": "independent"}}
}
